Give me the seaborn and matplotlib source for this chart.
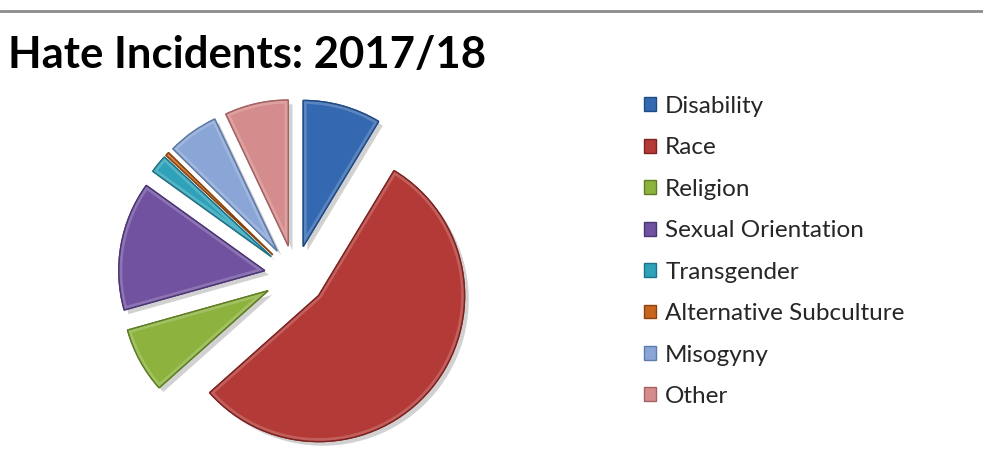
import matplotlib
matplotlib.use("Agg")
import matplotlib.pyplot as plt
import matplotlib.patheffects as pe
from matplotlib.lines import Line2D
from matplotlib.patches import Wedge
import seaborn as sns

# Hate incidents by category, share of total (%)
categories = ["Disability", "Race", "Religion", "Sexual Orientation",
              "Transgender", "Alternative Subculture", "Misogyny", "Other"]
shares = [8.6, 54.5, 7.2, 14.2, 2.0, 0.4, 5.6, 7.0]
hex_colors = ["#3468B0", "#B33A36", "#8DB33E", "#7152A0",
              "#2FA2BA", "#C8641C", "#8AA6D6", "#D58C8C"]
edge_colors = ["#1F4A85", "#7E2220", "#5F7E22", "#4C3575",
               "#1D7488", "#8A4410", "#5F7BAA", "#A56262"]

sns.set_theme(style="white")
plt.rcParams["font.family"] = ["Lato", "DejaVu Sans"]
palette = sns.color_palette(hex_colors)


def lighten(rgb, amount):
    return tuple(c + (1 - c) * amount for c in rgb)


W, H = 983, 449
fig = plt.figure(figsize=(W / 100, H / 100), dpi=100)

# pie axes placed in pixel units so that one data unit = 146 px
ax_left, ax_right, ax_bottom, ax_top = 60, 560, 0, 449
cx, cy, scale = 295, 173, 146
ax = fig.add_axes([ax_left / W, ax_bottom / H, (ax_right - ax_left) / W, (ax_top - ax_bottom) / H])

wedges, _ = ax.pie(shares, colors=palette, startangle=90, counterclock=False,
                   explode=[0.21] * len(shares),
                   wedgeprops=dict(linewidth=1.0))
for w, ec, fc in zip(wedges, edge_colors, palette):
    w.set_edgecolor(ec)
    w.set_path_effects([pe.SimplePatchShadow(offset=(3, -3), shadow_rgbFace="#000000", alpha=0.18),
                        pe.Normal()])
    # soft bevel: a light rim kept inside the slice outline
    rim = Wedge(w.center, w.r, w.theta1, w.theta2, facecolor="none",
                edgecolor=lighten(fc, 0.35), linewidth=5, alpha=0.55, zorder=w.get_zorder() + 0.1)
    ax.add_patch(rim)
    rim.set_clip_path(w)
    outline = Wedge(w.center, w.r, w.theta1, w.theta2, facecolor="none",
                    edgecolor=ec, linewidth=1.0, zorder=w.get_zorder() + 0.2)
    ax.add_patch(outline)
ax.set_xlim((ax_left - cx) / scale, (ax_right - cx) / scale)
ax.set_ylim((ax_bottom - cy) / scale, (ax_top - cy) / scale)
ax.set_aspect("auto")
ax.axis("off")

# title
fig.text(8 / W, 1 - 68 / H, "Hate Incidents: 2017/18", fontsize=31.4, fontweight="bold",
         color="black", ha="left", va="baseline")

# thin rule across the top
fig.add_artist(Line2D([0, 1], [1 - 11 / H, 1 - 11 / H], color="#8C8C8C", linewidth=2))

leg = fig.legend(wedges, categories, loc="upper left", bbox_to_anchor=(644 / W, 1 - 96 / H),
                 frameon=False, fontsize=17.5, handlelength=0.5, handleheight=0.5,
                 handletextpad=0.37, labelspacing=0.84, borderpad=0, borderaxespad=0)
for h in leg.legend_handles:
    h.set_path_effects([])

fig.savefig("out.png", dpi=100)
